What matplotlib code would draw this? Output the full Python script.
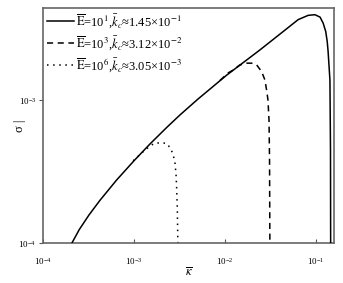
import matplotlib
matplotlib.use('Agg')
import matplotlib.pyplot as plt

plt.rcParams['font.family'] = ['Liberation Serif', 'DejaVu Serif']
plt.rcParams['mathtext.fontset'] = 'stix'

# curve points (kappa, sigma)
k_e1 = [1.9e-4, 2.5e-4, 3.2e-4, 4.23e-4, 6.45e-4, 1.0e-3, 1.5e-3, 2.29e-3, 3.2e-3,
        5.0e-3, 1.04e-2, 2.4e-2, 4.56e-2, 6.38e-2, 8.22e-2, 9.75e-2, 0.111,
        0.120, 0.128, 0.133, 0.136, 0.1425, 0.1445, 0.1452]
s_e1 = [9.0e-5, 1.24e-4, 1.57e-4, 1.99e-4, 2.76e-4, 3.76e-4, 4.93e-4, 6.43e-4, 7.86e-4,
        1.01e-3, 1.49e-3, 2.23e-3, 3.08e-3, 3.65e-3, 3.91e-3, 3.95e-3, 3.80e-3,
        3.45e-3, 3.02e-3, 2.57e-3, 2.19e-3, 1.38e-3, 4.5e-4, 8.0e-5]

k_e3 = [8.8e-3, 1.09e-2, 1.23e-2, 1.46e-2, 1.73e-2, 1.96e-2, 2.23e-2, 2.53e-2,
        2.75e-2, 2.87e-2, 2.97e-2, 3.05e-2, 3.09e-2, 3.12e-2]
s_e3 = [1.37e-3, 1.55e-3, 1.62e-3, 1.76e-3, 1.81e-3, 1.81e-3, 1.76e-3, 1.58e-3,
        1.38e-3, 1.17e-3, 1.0e-3, 7.2e-4, 3.8e-4, 8.0e-5]

k_e6 = [9.8e-4, 1.26e-3, 1.44e-3, 1.67e-3, 1.96e-3, 2.29e-3, 2.55e-3, 2.70e-3,
        2.82e-3, 2.90e-3, 2.94e-3, 2.99e-3, 3.02e-3, 3.052e-3]
s_e6 = [3.76e-4, 4.35e-4, 4.67e-4, 4.98e-4, 5.02e-4, 4.98e-4, 4.54e-4, 4.12e-4,
        3.66e-4, 3.0e-4, 2.48e-4, 1.8e-4, 1.23e-4, 8.0e-5]

labels = [r'$\overline{\rm E}$=10$^1$,$\bar{k}_c$≈1.45×10$^{-1}$',
          r'$\overline{\rm E}$=10$^3$,$\bar{k}_c$≈3.12×10$^{-2}$',
          r'$\overline{\rm E}$=10$^6$,$\bar{k}_c$≈3.05×10$^{-3}$']

fig = plt.figure(figsize=(3.43, 2.83), dpi=100)
ax = fig.add_axes([0.1254, 0.1413, 0.8484, 0.8304])

ax.plot(k_e1, s_e1, color='black', lw=1.1, label=labels[0], zorder=3)
ax.plot(k_e3, s_e3, color='black', lw=1.1, ls=(0, (4, 3)), label=labels[1], zorder=2)
ax.plot(k_e6, s_e6, color='black', lw=1.1, ls=(0, (1, 3)), label=labels[2], zorder=2)

ax.set_xscale('log')
ax.set_yscale('log')
ax.set_xlim(1e-4, 0.158)
ax.set_ylim(1e-4, 4.4e-3)
ax.minorticks_off()

ax.set_xticks([1e-4, 1e-3, 1e-2, 1e-1])
ax.set_yticks([1e-4, 1e-3])
ax.tick_params(axis='x', direction='in', length=3, labelsize=6.5, pad=9, color='#555555')
ax.tick_params(axis='y', direction='out', length=3, labelsize=6.5, pad=2, color='#555555')
for sp in ax.spines.values():
    sp.set_color('#666666')
    sp.set_linewidth(1.2)

ax.set_xlabel(r'$\overline{\kappa}$', fontsize=9, labelpad=0)
ax.set_ylabel('σ |', fontsize=9)
ax.yaxis.set_label_coords(-0.058, 0.5)

ax.legend(loc='upper left', frameon=False, fontsize=9, handlelength=2.2,
          handletextpad=0.1, labelspacing=0.35, borderaxespad=0.1,
          borderpad=0.2)

fig.savefig('out.png', dpi=100)
